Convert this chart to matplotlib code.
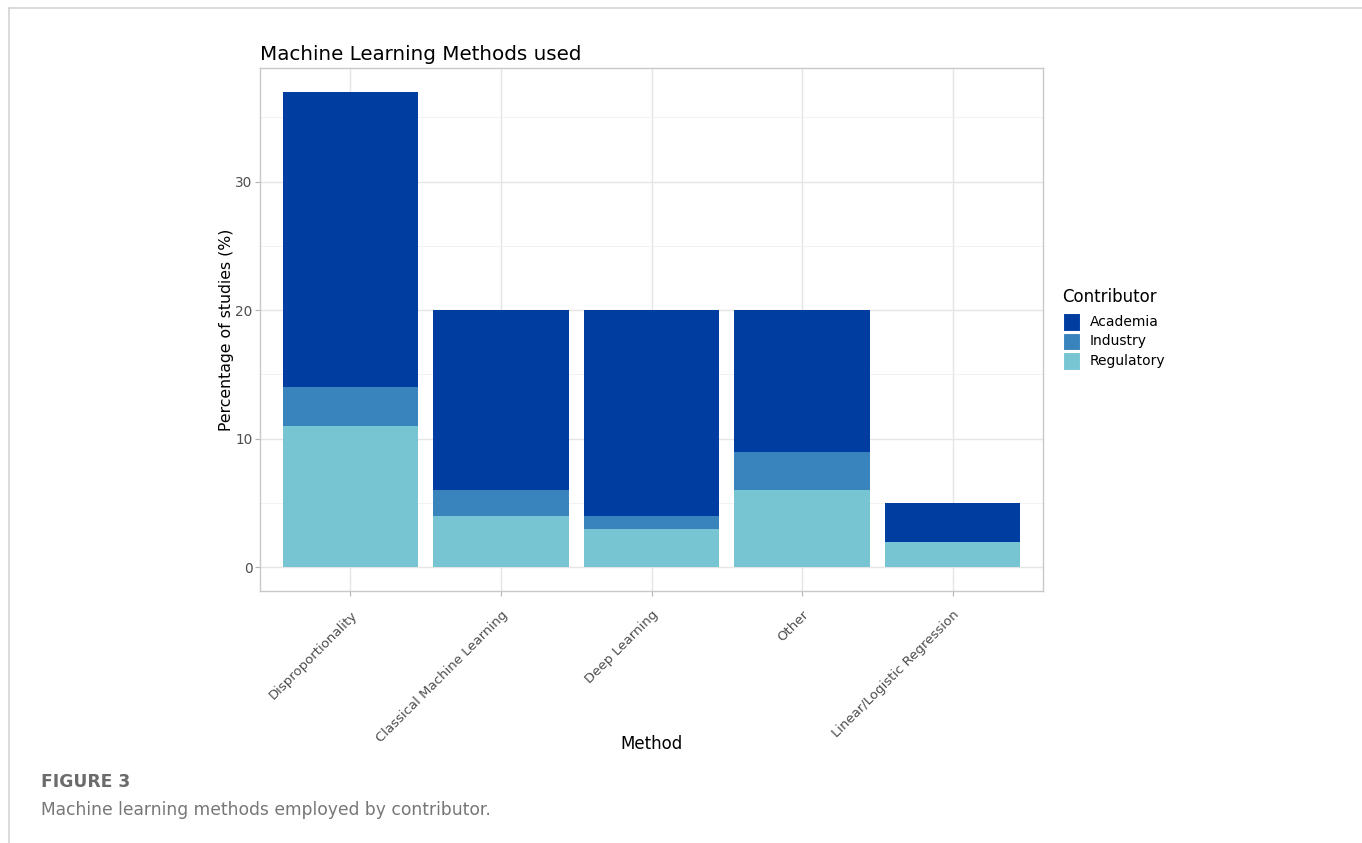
import matplotlib
matplotlib.use("Agg")
import matplotlib.pyplot as plt
from matplotlib.patches import Rectangle
from matplotlib.lines import Line2D
import numpy as np

methods = ["Disproportionality", "Classical Machine Learning", "Deep Learning",
           "Other", "Linear/Logistic Regression"]
contributors = ["Academia", "Industry", "Regulatory"]
regulatory = [11, 4, 3, 6, 2]
industry = [3, 2, 1, 3, 0]
academia = [23, 14, 16, 11, 3]
colors = {"Academia": "#003DA0", "Industry": "#3A84BE", "Regulatory": "#77C4D3"}
yticks = [0, 10, 20, 30]
yminor = [5, 15, 25, 35]

W, H = 1362, 843
fig = plt.figure(figsize=(W / 100, H / 100), dpi=100)
fig.patch.set_facecolor("white")

def fx(px):
    return px / W

def fy(py):
    return 1 - py / H

# page frame
fig.add_artist(Line2D([fx(9), 1], [fy(8), fy(8)], color="#d4d4d4", lw=1.2))
fig.add_artist(Line2D([fx(9), fx(9)], [fy(8), 0], color="#d4d4d4", lw=1.2))

ax = fig.add_axes([fx(260), fy(591), (1043 - 260) / W, (591 - 68) / H])
x = np.arange(1, len(methods) + 1)
reg = np.array(regulatory)
ind = np.array(industry)
aca = np.array(academia)
ax.bar(x, reg, width=0.9, color=colors["Regulatory"], zorder=3)
ax.bar(x, ind, width=0.9, bottom=reg, color=colors["Industry"], zorder=3)
ax.bar(x, aca, width=0.9, bottom=reg + ind, color=colors["Academia"], zorder=3)

top = (reg + ind + aca).max()
ax.set_xlim(0.4, len(methods) + 0.6)
ax.set_ylim(-0.05 * top, top * 1.05)
ax.set_yticks(yticks)
ax.set_yticks(yminor, minor=True)
ax.set_xticks(x)
ax.set_xticklabels(methods, rotation=45, ha="right", va="top",
                   rotation_mode="anchor", fontsize=9.5, color="#4D4D4D")
ax.tick_params(axis="y", which="major", labelsize=9.8, labelcolor="#4D4D4D",
               color="#B3B3B3", length=3.5, width=0.8, pad=2)
ax.tick_params(axis="x", which="major", color="#B3B3B3", length=3.5, width=0.8, pad=9)
ax.tick_params(axis="y", which="minor", length=0)
ax.grid(True, which="major", color="#E5E5E5", lw=1.0, zorder=0)
ax.grid(True, which="minor", axis="y", color="#F0F0F0", lw=0.6, zorder=0)
for s in ax.spines.values():
    s.set_color("#C8C8C8")
    s.set_linewidth(1.0)
ax.set_axisbelow(True)

ax.set_title("Machine Learning Methods used", loc="left", fontsize=14.3, pad=6, color="black")
ax.set_ylabel("Percentage of studies (%)", fontsize=11.3)
ax.set_xlabel("Method", fontsize=12)
ax.yaxis.set_label_coords((234 - 260) / 783, 0.5)
ax.xaxis.set_label_coords(0.5, (591 - 735) / 523)

# legend
fig.text(fx(1062), fy(297), "Contributor", fontsize=12, va="center", ha="left")
key_y = [322, 341, 361]
for name, ky in zip(contributors, key_y):
    fig.add_artist(Rectangle((fx(1063), fy(ky + 8.5)), 17 / W, 17 / H,
                             facecolor=colors[name], edgecolor="white", lw=0.8))
    fig.text(fx(1090), fy(ky), name, fontsize=10, va="center", ha="left")

# caption
fig.text(fx(41), fy(782), "FIGURE 3", fontsize=12.3, fontweight="bold",
         color="#6B6B6B", va="center", ha="left")
fig.text(fx(41), fy(810), "Machine learning methods employed by contributor.",
         fontsize=12.3, color="#777777", va="center", ha="left")

fig.savefig("out.png", dpi=100)
